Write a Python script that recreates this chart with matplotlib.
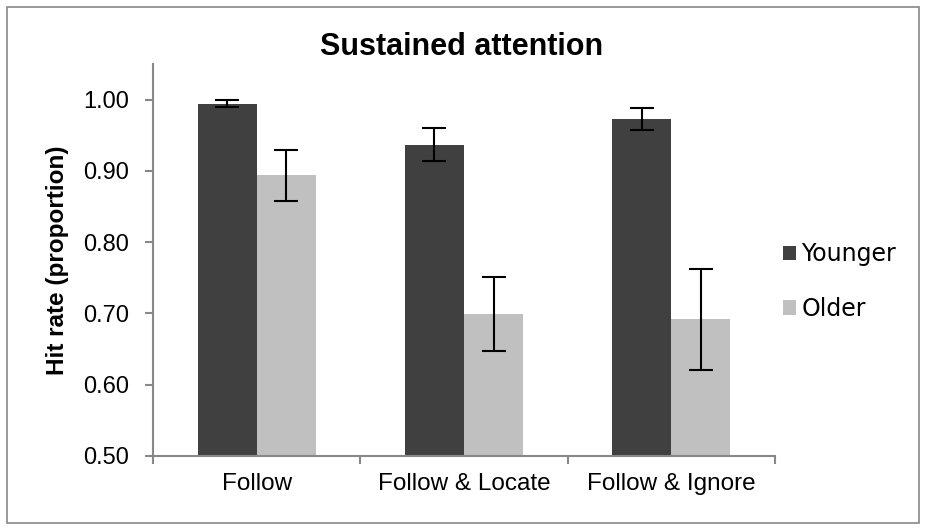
import matplotlib.pyplot as plt
import numpy as np
from matplotlib.patches import Rectangle

# data
conditions = ['Follow', 'Follow & Locate', 'Follow & Ignore']
younger = [0.994, 0.937, 0.973]
younger_err = [0.005, 0.023, 0.015]
older = [0.894, 0.699, 0.692]
older_err = [0.036, 0.052, 0.071]

fig = plt.figure(figsize=(9.25, 5.29), dpi=100)
ax = fig.add_axes([0.1654, 0.138, 0.6724, 0.741])

x = np.arange(len(conditions))
w = 0.285
ebar = dict(elinewidth=1.5, capthick=1.5, ecolor='black')
ax.bar(x - w / 2, younger, w, color='#404040', label='Younger',
       yerr=younger_err, capsize=8.5, error_kw=ebar)
ax.bar(x + w / 2, older, w, color='#c0c0c0', label='Older',
       yerr=older_err, capsize=8.5, error_kw=ebar)

ax.set_xlim(-0.5, 2.5)
ax.set_ylim(0.5, 1.05)
yt = np.arange(0.5, 1.01, 0.1)
ax.set_yticks(yt)
ax.set_yticklabels(['%.2f' % v for v in yt], fontsize=17, family='Liberation Sans')

# category labels centred, ticks on category boundaries
ax.set_xticks(x)
ax.set_xticklabels(conditions, fontsize=17.5, family='Liberation Sans')
ax.tick_params(axis='x', length=0, pad=12)
ax.set_xticks([-0.5, 0.5, 1.5, 2.5], minor=True)
ax.tick_params(axis='x', which='minor', length=6, color='#888888', width=1.5)
ax.tick_params(axis='y', length=6, color='#888888', width=1.5, pad=11)

for s in ['top', 'right']:
    ax.spines[s].set_visible(False)
for s in ['left', 'bottom']:
    ax.spines[s].set_color('#888888')
    ax.spines[s].set_linewidth(1.5)

ax.set_ylabel('Hit rate (proportion)', fontsize=17.5, fontweight='bold',
              family='Liberation Sans', labelpad=10)
fig.text(0.499, 0.912, 'Sustained attention', ha='center', va='center',
         fontsize=22, fontweight='bold', family='Liberation Sans')

fig.legend(loc='center left', bbox_to_anchor=(0.846, 0.468), frameon=False,
           prop={'family': 'DejaVu Sans', 'size': 17}, handlelength=0.55,
           handleheight=0.55, handletextpad=0.25, labelspacing=1.3,
           borderaxespad=0, borderpad=0)

# outer chart border
fig.patches.append(Rectangle((0.008, 0.012), 0.986, 0.974, transform=fig.transFigure,
                             fill=False, edgecolor='#888888', linewidth=1.2))

fig.savefig('out.png', dpi=100)
